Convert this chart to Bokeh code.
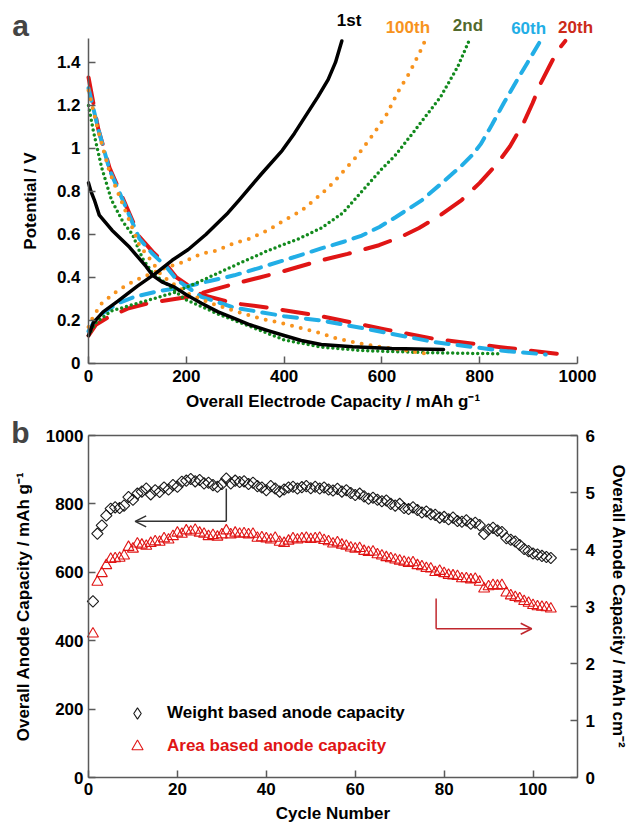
import math
from bokeh.plotting import figure
from bokeh.models import (Range1d, LinearAxis, FixedTicker, CustomJSTickFormatter, Label,
                          Arrow, OpenHead, Legend, LegendItem)
from bokeh.layouts import column
from bokeh.embed import file_html
from bokeh.resources import INLINE

FONT = "Liberation Sans"
NAN = float("nan")

# ---------------- panel a data (capacity mAh/g, potential V) ----------------
c1_chg_cap = [0, 10, 30, 60, 100, 138, 171, 204, 240, 285, 308, 353, 396, 421, 469, 490, 505, 518]
c1_chg_v = [0.13, 0.19, 0.24, 0.29, 0.36, 0.42, 0.48, 0.53, 0.60, 0.70, 0.76, 0.88, 0.99, 1.07, 1.24, 1.32, 1.40, 1.50]
c1_dis_cap = [0, 5, 12, 22, 48, 84, 118, 131, 150, 176, 200, 231, 265, 298, 330, 367, 400, 435, 476, 540, 620, 726]
c1_dis_v = [0.84, 0.80, 0.76, 0.69, 0.62, 0.54, 0.45, 0.41, 0.38, 0.355, 0.32, 0.28, 0.24, 0.21, 0.18, 0.153, 0.13, 0.107, 0.088, 0.078, 0.07, 0.065]

c100_chg_cap = [0, 10, 27, 60, 94, 130, 163, 192, 231, 261, 298, 329, 367, 396, 435, 477, 500, 551, 582, 610, 632, 656, 678, 688]
c100_chg_v = [0.17, 0.22, 0.28, 0.34, 0.385, 0.42, 0.45, 0.47, 0.51, 0.525, 0.56, 0.58, 0.62, 0.66, 0.71, 0.79, 0.84, 0.97, 1.065, 1.16, 1.26, 1.35, 1.45, 1.50]
c100_dis_cap = [0, 20, 43, 70, 104, 131, 149, 180, 204, 250, 298, 350, 400, 476, 502, 550, 604, 694]
c100_dis_v = [1.27, 1.08, 0.89, 0.74, 0.55, 0.47, 0.41, 0.36, 0.325, 0.28, 0.245, 0.21, 0.185, 0.14, 0.12, 0.095, 0.075, 0.045]

c2_chg_cap = [0, 15, 47, 108, 176, 231, 298, 367, 430, 476, 520, 559, 598, 628, 666, 720, 755, 778]
c2_chg_v = [0.13, 0.19, 0.245, 0.285, 0.33, 0.385, 0.455, 0.525, 0.58, 0.63, 0.70, 0.80, 0.90, 0.97, 1.08, 1.24, 1.38, 1.50]
c2_dis_cap = [0, 10, 27, 47, 70, 90, 110, 131, 160, 196, 265, 333, 400, 476, 560, 700, 843]
c2_dis_v = [1.20, 1.08, 0.91, 0.76, 0.66, 0.60, 0.49, 0.42, 0.37, 0.30, 0.23, 0.17, 0.11, 0.076, 0.06, 0.05, 0.045]

c60_chg_cap = [0, 10, 27, 60, 94, 140, 196, 250, 298, 350, 400, 476, 520, 559, 595, 628, 655, 682, 723, 763, 785, 802, 825, 849, 877, 898, 924]
c60_chg_v = [0.15, 0.19, 0.23, 0.28, 0.31, 0.335, 0.355, 0.385, 0.41, 0.445, 0.48, 0.535, 0.565, 0.595, 0.635, 0.68, 0.72, 0.76, 0.84, 0.92, 0.97, 1.02, 1.11, 1.21, 1.32, 1.40, 1.50]
c60_dis_cap = [0, 20, 43, 70, 104, 131, 159, 180, 231, 298, 400, 476, 571, 706, 843, 935]
c60_dis_v = [1.28, 1.09, 0.90, 0.76, 0.58, 0.51, 0.45, 0.39, 0.31, 0.26, 0.22, 0.20, 0.16, 0.10, 0.06, 0.042]

c20_chg_cap = [0, 15, 40, 80, 122, 204, 250, 298, 350, 400, 476, 530, 594, 640, 676, 720, 763, 800, 836, 862, 890, 908, 924, 942, 959, 975]
c20_chg_v = [0.13, 0.18, 0.215, 0.255, 0.28, 0.31, 0.34, 0.37, 0.40, 0.43, 0.48, 0.51, 0.55, 0.59, 0.63, 0.69, 0.76, 0.84, 0.93, 1.01, 1.12, 1.21, 1.30, 1.38, 1.455, 1.50]
c20_dis_cap = [0, 5, 20, 43, 70, 104, 131, 159, 180, 231, 298, 367, 476, 604, 706, 843, 971]
c20_dis_v = [1.33, 1.27, 1.09, 0.91, 0.77, 0.59, 0.52, 0.46, 0.40, 0.32, 0.28, 0.26, 0.22, 0.16, 0.115, 0.076, 0.042]

cap_ticks = [0, 200, 400, 600, 800, 1000]
pot_ticks = [0, 0.2, 0.4, 0.6, 0.8, 1.0, 1.2, 1.4]
curve_names = ["1st", "100th", "2nd", "60th", "20th"]

# ---------------- panel b data ----------------
cycles = list(range(1, 105))
weight_cap = [515, 713, 737, 766, 786, 790, 788, 795, 820, 812,
              830, 836, 845, 828, 840, 835, 848, 842, 855, 850,
              865, 868, 873, 866, 870, 860, 862, 855, 850, 858,
              874, 860, 868, 864, 866, 858, 862, 852, 848, 840,
              852, 845, 836, 842, 848, 850, 845, 849, 852, 846,
              850, 845, 848, 842, 839, 844, 836, 840, 832, 826,
              830, 822, 815, 818, 812, 808, 810, 800, 795, 800,
              788, 785, 790, 782, 775, 778, 770, 768, 760, 762,
              755, 760, 750, 748, 752, 742, 745, 738, 712, 725,
              730, 722, 718, 700, 695, 690, 680, 668, 662, 655,
              652, 648, 645, 642]
area_cap = [2.52, 3.43, 3.58, 3.72, 3.83, 3.84, 3.85, 3.89, 4.04, 4.01,
            4.10, 4.08, 4.06, 4.11, 4.14, 4.13, 4.19, 4.17, 4.23, 4.29,
            4.27, 4.33, 4.31, 4.34, 4.29, 4.27, 4.23, 4.25, 4.22, 4.26,
            4.33, 4.26, 4.29, 4.27, 4.28, 4.26, 4.27, 4.20, 4.21, 4.19,
            4.17, 4.20, 4.13, 4.11, 4.15, 4.19, 4.17, 4.19, 4.20, 4.18,
            4.19, 4.20, 4.16, 4.14, 4.10, 4.12, 4.08, 4.06, 4.03, 4.01,
            4.02, 3.97, 3.95, 3.96, 3.91, 3.89, 3.86, 3.84, 3.82, 3.80,
            3.78, 3.76, 3.77, 3.72, 3.70, 3.67, 3.66, 3.60, 3.62, 3.58,
            3.55, 3.54, 3.53, 3.49, 3.49, 3.47, 3.48, 3.43, 3.31, 3.35,
            3.37, 3.36, 3.37, 3.24, 3.19, 3.16, 3.14, 3.09, 3.06, 3.02,
            3.00, 2.99, 2.98, 2.96]
cycle_ticks = [0, 20, 40, 60, 80, 100]
wcap_ticks = [0, 200, 400, 600, 800, 1000]
acap_ticks = [0, 1, 2, 3, 4, 5, 6]

# arrow anchors (cycle, value)
black_arrow = dict(x0=31, y_top=845, y=749, x1=10.5)
red_arrow = dict(x0=78.2, y_top=3.14, y=2.61, x1=99.7)

AX = "#5a5a5a"
ORANGE = "#f7931e"
GREEN = "#138a1e"
BLUE = "#22aee6"
RED = "#e01515"


def style_axis(ax, size="17px"):
    ax.axis_line_color = AX
    ax.axis_line_width = 1.5
    ax.major_tick_line_color = AX
    ax.major_tick_line_width = 1.5
    ax.major_tick_in = 7
    ax.major_tick_out = 0
    ax.minor_tick_line_color = None
    ax.major_label_text_font = FONT
    ax.major_label_text_font_style = "bold"
    ax.major_label_text_font_size = size
    ax.major_label_text_color = "black"
    ax.axis_label_text_font = FONT
    ax.axis_label_text_font_style = "bold"
    ax.axis_label_text_font_size = "17px"
    ax.axis_label_text_color = "black"


fmt = CustomJSTickFormatter(code="return (Math.round(tick*10)/10).toString();")
W = 629

# ---------------- panel a ----------------
p1 = figure(width=W, height=416, output_backend="svg", toolbar_location=None,
            x_range=Range1d(-180.0, 1106.3), y_range=Range1d(-0.2465, 1.688),
            min_border_left=0, min_border_right=0, min_border_top=0, min_border_bottom=0)
p1.outline_line_color = None
p1.grid.visible = False
p1.xaxis.ticker = FixedTicker(ticks=cap_ticks)
p1.xaxis.bounds = (0, 1000)
p1.xaxis.fixed_location = 0
p1.yaxis.ticker = FixedTicker(ticks=pot_ticks)
p1.yaxis.bounds = (0, 1.51)
p1.yaxis.fixed_location = 0
p1.yaxis.formatter = fmt
p1.xaxis.axis_label = "Overall Electrode Capacity / mAh g\u207b\u00b9"
p1.yaxis.axis_label = "Potential / V"
style_axis(p1.xaxis[0])
style_axis(p1.yaxis[0])
p1.xaxis.major_label_standoff = 7
p1.xaxis.axis_label_standoff = 6
p1.yaxis.major_label_standoff = 8
p1.yaxis.axis_label_standoff = 14

curves = [
    (c20_chg_cap, c20_chg_v, RED, "26 16", 4),
    (c20_dis_cap, c20_dis_v, RED, "26 16", 4),
    (c60_chg_cap, c60_chg_v, BLUE, "13 9", 4),
    (c60_dis_cap, c60_dis_v, BLUE, "13 9", 4),
    (c2_chg_cap, c2_chg_v, GREEN, "0 5", 3.5),
    (c2_dis_cap, c2_dis_v, GREEN, "0 5", 3.5),
    (c100_chg_cap, c100_chg_v, ORANGE, "0 9", 4),
    (c100_dis_cap, c100_dis_v, ORANGE, "0 9", 4),
    (c1_chg_cap, c1_chg_v, "black", None, 3.5),
    (c1_dis_cap, c1_dis_v, "black", None, 3.5),
]
for xs, ys, col, dash, w in curves:
    kw = dict(line_color=col, line_width=w, line_cap="round", line_join="round")
    if dash:
        kw["line_dash"] = dash
    p1.line(xs, ys, **kw)

label_pos = [(533, 1.595, "black"), (653, 1.563, ORANGE), (776, 1.572, "#52692c"),
             (900, 1.558, BLUE), (996, 1.563, "#cc2a1a")]
for txt, (x, y, col) in zip(curve_names, label_pos):
    p1.add_layout(Label(x=x, y=y, text=txt, text_color=col, text_font=FONT,
                        text_font_style="bold", text_font_size="17px",
                        text_align="center", text_baseline="middle"))
p1.add_layout(Label(x=-139, y=1.572, text="a", text_font=FONT, text_font_style="bold",
                    text_font_size="30px", text_align="center", text_baseline="middle"))

# ---------------- panel b ----------------
p2 = figure(width=W, height=412, output_backend="svg", toolbar_location=None,
            x_range=Range1d(-19.795, 121.7), y_range=Range1d(-149.1, 1055.6),
            min_border_left=0, min_border_right=0, min_border_top=0, min_border_bottom=0)
p2.extra_y_ranges = {"area": Range1d(-0.8947, 6.3336)}
p2.outline_line_color = None
p2.grid.visible = False
p2.xaxis.ticker = FixedTicker(ticks=cycle_ticks)
p2.xaxis.bounds = (0, 110)
p2.xaxis.fixed_location = 0
p2.yaxis.ticker = FixedTicker(ticks=wcap_ticks)
p2.yaxis.bounds = (0, 1000)
p2.yaxis.fixed_location = 0
p2.xaxis.axis_label = "Cycle Number"
p2.yaxis.axis_label = "Overall Anode Capacity / mAh g\u207b\u00b9"
style_axis(p2.xaxis[0])
style_axis(p2.yaxis[0])
p2.xaxis.major_label_standoff = 5
p2.xaxis.axis_label_standoff = 6
p2.yaxis.major_label_standoff = 5
p2.yaxis.axis_label_standoff = 10

rax = LinearAxis(y_range_name="area", ticker=FixedTicker(ticks=acap_ticks), bounds=(0, 6),
                 fixed_location=110,
                 axis_label="Overall Anode Capacity / mAh cm\u207b\u00b2")
style_axis(rax)
rax.major_label_standoff = 8
rax.axis_label_standoff = 11
p2.add_layout(rax, "right")

tax = LinearAxis(ticker=FixedTicker(ticks=[]), bounds=(0, 110), fixed_location=1000)
style_axis(tax)
p2.add_layout(tax, "above")

rw = p2.scatter(cycles, weight_cap, marker="square", angle=math.pi / 4, size=8,
                fill_color=None, line_color="#1a1a1a", line_width=1.1)
ra = p2.scatter(cycles, area_cap, y_range_name="area", marker="triangle", size=11,
                fill_color=None, line_color=RED, line_width=1.1)
# legend-key renderer for the diamond symbol (holds no plotted point)
kw_ = p2.scatter([NAN], [NAN], marker="diamond", fill_color=None, line_color="#1a1a1a",
                 line_width=1.1)

# arrows
p2.segment(x0=[black_arrow["x0"]], y0=[black_arrow["y_top"]], x1=[black_arrow["x0"]],
           y1=[black_arrow["y"]], line_color="#333333", line_width=1.5)
p2.add_layout(Arrow(end=OpenHead(size=11, line_color="#333333", line_width=1.5),
                    x_start=black_arrow["x0"], y_start=black_arrow["y"],
                    x_end=black_arrow["x1"], y_end=black_arrow["y"],
                    line_color="#333333", line_width=1.5))
p2.segment(x0=[red_arrow["x0"]], y0=[red_arrow["y_top"]], x1=[red_arrow["x0"]],
           y1=[red_arrow["y"]], y_range_name="area", line_color="#c0272d", line_width=1.5)
p2.add_layout(Arrow(end=OpenHead(size=11, line_color="#c0272d", line_width=1.5),
                    x_start=red_arrow["x0"], y_start=red_arrow["y"],
                    x_end=red_arrow["x1"], y_end=red_arrow["y"], y_range_name="area",
                    line_color="#c0272d", line_width=1.5))

for item, col, loc in [(LegendItem(label="Weight based anode capacity", renderers=[kw_]), "black", (123, 101)),
                       (LegendItem(label="Area based anode capacity", renderers=[ra]), RED, (123, 68))]:
    lg = Legend(items=[item], location=loc, padding=0, margin=0, glyph_width=28,
                glyph_height=28, label_standoff=16, label_text_font=FONT,
                label_text_font_style="bold", label_text_font_size="17px",
                label_text_color=col, background_fill_alpha=0, border_line_color=None)
    p2.add_layout(lg)

p2.add_layout(Label(x=-15.3, y=1009, text="b", text_font=FONT, text_font_style="bold",
                    text_font_size="30px", text_align="center", text_baseline="middle"))

layout = column(p1, p2, spacing=0)
open("out.html", "w").write(file_html(layout, INLINE))
